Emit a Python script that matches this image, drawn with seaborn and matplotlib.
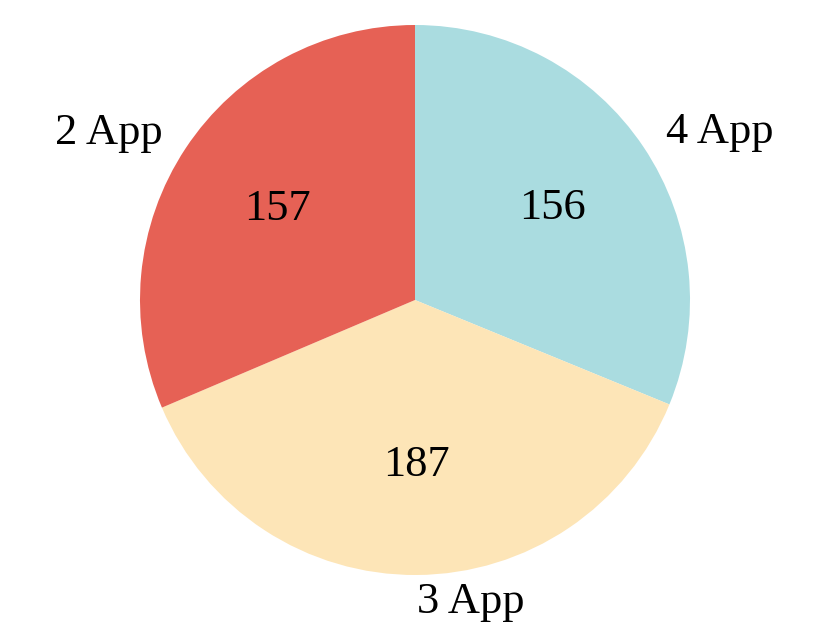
import matplotlib
matplotlib.use("Agg")
import matplotlib.pyplot as plt
import seaborn as sns

labels = ["4 App", "3 App", "2 App"]
counts = [156, 187, 157]
colors = ["#AADCE0", "#FDE5B7", "#E66155"]

sns.set_theme(style="white")
plt.rcParams['font.family'] = ['Liberation Serif', 'DejaVu Serif']

fig = plt.figure(figsize=(8.31, 6.32), dpi=100)
# pie centre ~ (415, 300) px, radius ~ 275 px
r, cx, cy = 275, 415, 300
ax = fig.add_axes([(cx - r) / 831, (632 - cy - r) / 632, 2 * r / 831, 2 * r / 632])

total = sum(counts)
ax.pie(counts, labels=labels, colors=colors, startangle=90, counterclock=False,
       autopct=lambda p: f"{round(p * total / 100)}",
       textprops={'fontsize': 32, 'color': 'black'},
       wedgeprops={'linewidth': 0})
ax.set_xlim(-1, 1)
ax.set_ylim(-1, 1)
ax.set_aspect('equal')

fig.savefig("out.png", dpi=100)
